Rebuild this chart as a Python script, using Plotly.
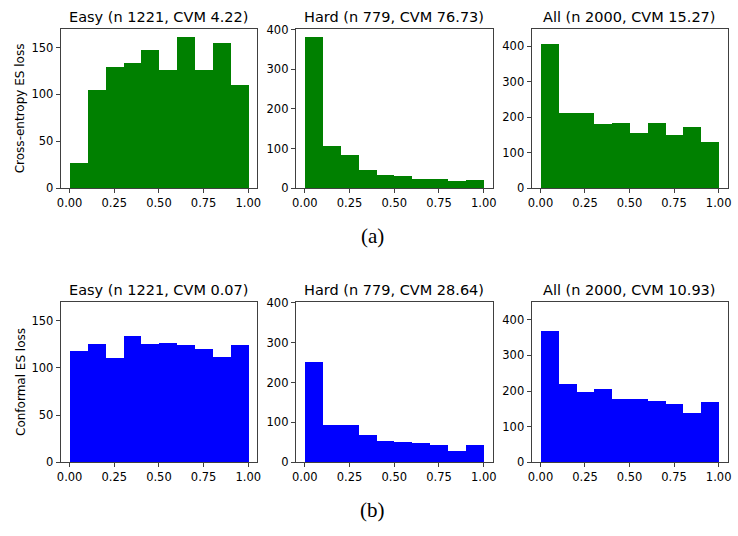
import plotly.graph_objects as go

bin_edges = [0.0, 0.1, 0.2, 0.3, 0.4, 0.5, 0.6, 0.7, 0.8, 0.9, 1.0]

ce_easy = [27, 105, 129, 134, 148, 126, 161, 126, 155, 110]
ce_hard = [383, 108, 84, 47, 35, 32, 23, 25, 20, 22]
ce_all = [409, 214, 214, 181, 184, 157, 184, 151, 173, 132]

cf_easy = [118, 126, 111, 134, 125, 127, 124, 120, 112, 124]
cf_hard = [251, 95, 93, 69, 54, 51, 49, 44, 29, 44]
cf_all = [368, 221, 198, 205, 178, 178, 173, 164, 140, 169]

titles_ce = ["Easy (n 1221, CVM 4.22)", "Hard (n 779, CVM 76.73)", "All (n 2000, CVM 15.27)"]
titles_cf = ["Easy (n 1221, CVM 0.07)", "Hard (n 779, CVM 28.64)", "All (n 2000, CVM 10.93)"]
row_labels = ["Cross-entropy ES loss", "Conformal ES loss"]
captions = ["(a)", "(b)"]
x_ticks = [0.0, 0.25, 0.5, 0.75, 1.0]
y_ticks = [[0, 50, 100, 150], [0, 100, 200, 300, 400], [0, 100, 200, 300, 400]]
y_ranges = [[0, 170], [0, 402], [0, 450]]

W, H = 738, 536
col_px = [(57.3, 256.0), (295.0, 494.0), (533.3, 731.5)]
row_px = [(23.3, 186.7), (303.3, 467.7)]
colors = ["#008000", "#0000ff"]

centers = [(bin_edges[i] + bin_edges[i + 1]) / 2 for i in range(len(bin_edges) - 1)]
widths = [bin_edges[i + 1] - bin_edges[i] for i in range(len(bin_edges) - 1)]

data_rows = [[ce_easy, ce_hard, ce_all], [cf_easy, cf_hard, cf_all]]
title_rows = [titles_ce, titles_cf]

fig = go.Figure()
annotations = []
layout_axes = {}
font_family = "DejaVu Sans"
line_col = "#404040"

idx = 0
for r in range(2):
    y0p, y1p = row_px[r]
    ydom = [1 - y1p / H, 1 - y0p / H]
    for c in range(3):
        idx += 1
        x0p, x1p = col_px[c]
        xdom = [x0p / W, x1p / W]
        xa = "x" if idx == 1 else f"x{idx}"
        ya = "y" if idx == 1 else f"y{idx}"
        fig.add_trace(go.Bar(
            x=centers, y=data_rows[r][c], width=widths,
            marker=dict(color=colors[r], line=dict(width=0)),
            xaxis=xa, yaxis=ya, showlegend=False,
        ))
        xkey = "xaxis" if idx == 1 else f"xaxis{idx}"
        ykey = "yaxis" if idx == 1 else f"yaxis{idx}"
        layout_axes[xkey] = dict(
            domain=xdom, anchor=ya, range=[-0.05, 1.05],
            tickvals=x_ticks, tickformat=".2f",
            showline=True, mirror=True, linecolor=line_col, linewidth=1,
            ticks="outside", ticklen=4, tickcolor=line_col,
            showgrid=False, zeroline=False,
            tickfont=dict(family=font_family, size=11.5, color="#000"),
        )
        layout_axes[ykey] = dict(
            domain=ydom, anchor=xa, range=y_ranges[c],
            tickvals=y_ticks[c],
            showline=True, mirror=True, linecolor=line_col, linewidth=1,
            ticks="outside", ticklen=4, tickcolor=line_col,
            showgrid=False, zeroline=False,
            tickfont=dict(family=font_family, size=11.5, color="#000"),
        )
        annotations.append(dict(
            text=title_rows[r][c], xref="paper", yref="paper",
            x=(xdom[0] + xdom[1]) / 2, y=ydom[1], yshift=2,
            xanchor="center", yanchor="bottom", showarrow=False,
            font=dict(family=font_family, size=14.5, color="#000"),
        ))
    annotations.append(dict(
        text=row_labels[r], xref="paper", yref="paper",
        x=17 / W, y=(ydom[0] + ydom[1]) / 2, textangle=-90,
        xanchor="center", yanchor="middle", showarrow=False,
        font=dict(family=font_family, size=12, color="#000"),
    ))

annotations.append(dict(text=captions[0], xref="paper", yref="paper",
                        x=373 / W, y=1 - 236 / H, xanchor="center", yanchor="middle",
                        showarrow=False, font=dict(family="Liberation Serif", size=21, color="#000")))
annotations.append(dict(text=captions[1], xref="paper", yref="paper",
                        x=373 / W, y=1 - 517 / H, xanchor="center", yanchor="middle",
                        showarrow=False, font=dict(family="Liberation Serif", size=21, color="#000")))

fig.update_layout(
    width=W, height=H, margin=dict(l=0, r=0, t=0, b=0),
    plot_bgcolor="white", paper_bgcolor="white",
    bargap=0, annotations=annotations, **layout_axes,
)

fig.write_html("out.html", config={"displayModeBar": False},
               post_script="document.body.style.margin='0';document.body.style.overflow='hidden';")
